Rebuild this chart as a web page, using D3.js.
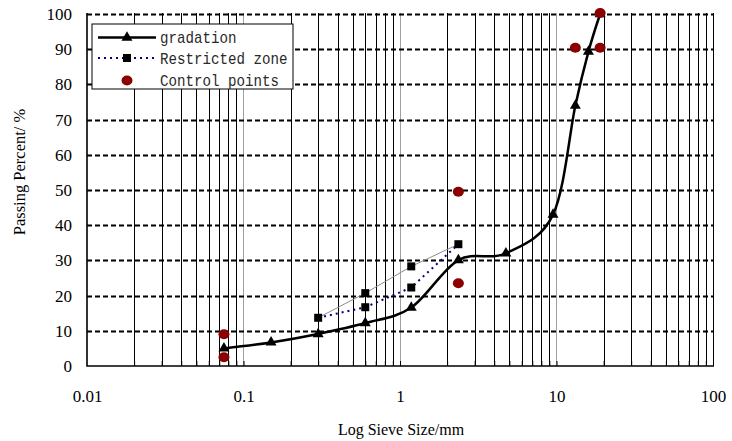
<!DOCTYPE html>
<html>
  <head>
    <meta charset="utf-8" />
    <script src="https://cdn.jsdelivr.net/npm/d3@7"></script>
    <style>
      body { margin: 0; background: #fff; }
      svg text { font-family: "Liberation Serif", "Times New Roman", serif; fill: #000; }
      .legend text { font-family: "Liberation Mono", "Courier New", monospace; font-size: 17px; fill: #2a2a2a; }
    </style>
  </head>
  <body>
    <div id="container"></div>
    <script>
      // sieve sizes (mm) and passing percents
      const sieves = [0.075, 0.15, 0.3, 0.6, 1.18, 2.36, 4.75, 9.5, 13.2, 16, 19];
      const gradation = [5.0, 6.7, 9.1, 12.2, 16.6, 30.1, 32.0, 43.0, 74.0, 89.3, 100];

      const zoneSieves = [0.3, 0.6, 1.18, 2.36];
      const zoneLower = [13.7, 16.7, 22.3, 34.6];
      const zoneUpper = [13.7, 20.7, 28.3, 34.6];

      const controlSieves = [0.075, 0.075, 2.36, 2.36, 13.2, 19, 19];
      const controlValues = [2.5, 9.0, 23.5, 49.5, 90.4, 90.4, 100.3];

      const xTickLabels = [0.01, 0.1, 1, 10, 100];
      const yTickLabels = [0, 10, 20, 30, 40, 50, 60, 70, 80, 90, 100];

      const legendNames = ["gradation", "Restricted zone", "Control points"];

      const w = 732;
      const h = 441;
      const margin = { left: 87, right: 19, top: 14, bottom: 75 };
      const serif = '"Liberation Serif", "Times New Roman", serif';

      const svg = d3
        .select("#container")
        .append("svg")
        .attr("width", w)
        .attr("height", h);

      const x = d3
        .scaleLog()
        .domain([0.01, 100])
        .range([margin.left, w - margin.right]);
      const y = d3
        .scaleLinear()
        .domain([0, 100])
        .range([h - margin.bottom, margin.top]);

      // vertical grid at every log step, decades in grey
      const gridVals = [];
      [0.01, 0.1, 1, 10].forEach((d) => {
        for (let k = 1; k <= 9; k++) {
          if (d * k > 0.01) gridVals.push(+(d * k).toPrecision(3));
        }
      });
      gridVals.push(100);
      const isDecade = (v) => Math.abs(Math.log10(v) - Math.round(Math.log10(v))) < 1e-6;

      svg
        .append("g")
        .selectAll("line")
        .data(gridVals)
        .enter()
        .append("line")
        .attr("x1", (d) => Math.round(x(d)) + 0.5)
        .attr("x2", (d) => Math.round(x(d)) + 0.5)
        .attr("y1", y(100) - 1)
        .attr("y2", y(0))
        .attr("stroke", (d) => (isDecade(d) && d < 100 ? "#a0a0a0" : "#000"))
        .attr("stroke-width", 1);

      // horizontal dashed grid (100 included, it is the top edge)
      svg
        .append("g")
        .selectAll("line")
        .data(yTickLabels.filter((v) => v > 0))
        .enter()
        .append("line")
        .attr("x1", x(0.01))
        .attr("x2", x(100))
        .attr("y1", (d) => Math.round(y(d)) + 0.5)
        .attr("y2", (d) => Math.round(y(d)) + 0.5)
        .attr("stroke", "#000")
        .attr("stroke-width", 2)
        .attr("stroke-dasharray", "5,3");

      // inside ticks on the bottom axis
      svg
        .append("g")
        .attr("transform", `translate(0,${y(0)})`)
        .call(d3.axisBottom(x).tickValues(gridVals).tickSize(-5).tickFormat(""))
        .call((g) => g.select(".domain").remove())
        .call((g) => g.selectAll("line").attr("stroke", "#000").attr("stroke-width", 1));

      // left and bottom axis lines
      svg
        .append("path")
        .attr("d", `M${x(0.01)},${y(100) - 1}V${y(0)}H${x(100) + 1}`)
        .attr("fill", "none")
        .attr("stroke", "#000")
        .attr("stroke-width", 1.6);

      // tick labels
      svg
        .append("g")
        .attr("transform", `translate(0,${y(0)})`)
        .call(
          d3.axisBottom(x).tickValues(xTickLabels).tickSize(0).tickPadding(24)
            .tickFormat((d) => String(d))
        )
        .call((g) => g.select(".domain").remove())
        .call((g) => g.attr("font-family", serif).attr("font-size", 17));

      svg
        .append("g")
        .attr("transform", `translate(${x(0.01)},0)`)
        .call(d3.axisLeft(y).tickValues(yTickLabels).tickSize(0).tickPadding(15))
        .call((g) => g.select(".domain").remove())
        .call((g) => g.attr("font-family", serif).attr("font-size", 17));

      svg
        .append("text")
        .attr("x", 401)
        .attr("y", 435)
        .attr("text-anchor", "middle")
        .attr("font-family", serif)
        .attr("font-size", 16)
        .text("Log Sieve Size/mm");

      svg
        .append("text")
        .attr("transform", "translate(25,172) rotate(-90)")
        .attr("text-anchor", "middle")
        .attr("font-family", serif)
        .attr("font-size", 16.5)
        .text("Passing Percent/ %");

      // restricted zone: upper bound thin grey, lower bound dotted navy
      const zoneLine = d3.line().x((d) => x(d[0])).y((d) => y(d[1]));
      svg
        .append("path")
        .attr("d", zoneLine(d3.zip(zoneSieves, zoneUpper)))
        .attr("fill", "none")
        .attr("stroke", "#8c8c8c")
        .attr("stroke-width", 1);
      svg
        .append("path")
        .attr("d", zoneLine(d3.zip(zoneSieves, zoneLower)))
        .attr("fill", "none")
        .attr("stroke", "#00007a")
        .attr("stroke-width", 2)
        .attr("stroke-dasharray", "2,4");

      const sq = d3.symbol().type(d3.symbolSquare).size(64);
      svg
        .append("g")
        .selectAll("path")
        .data(d3.zip(zoneSieves, zoneUpper).concat(d3.zip(zoneSieves.slice(1, 3), zoneLower.slice(1, 3))))
        .enter()
        .append("path")
        .attr("d", sq)
        .attr("transform", (d) => `translate(${x(d[0])},${y(d[1])})`)
        .attr("fill", "#000");

      // gradation curve (smoothed like the spreadsheet line)
      const gradLine = d3
        .line()
        .x((d) => x(d[0]))
        .y((d) => y(d[1]))
        .curve(d3.curveCardinal.tension(0));
      svg
        .append("path")
        .attr("d", gradLine(d3.zip(sieves, gradation)))
        .attr("fill", "none")
        .attr("stroke", "#000")
        .attr("stroke-width", 2.5);

      const tri = d3.symbol().type(d3.symbolTriangle).size(52);
      svg
        .append("g")
        .selectAll("path")
        .data(d3.zip(sieves, gradation))
        .enter()
        .append("path")
        .attr("d", tri)
        .attr("transform", (d) => `translate(${x(d[0])},${y(d[1])})`)
        .attr("fill", "#000");

      // control points
      svg
        .append("g")
        .selectAll("ellipse")
        .data(d3.zip(controlSieves, controlValues))
        .enter()
        .append("ellipse")
        .attr("cx", (d) => x(d[0]))
        .attr("cy", (d) => y(d[1]))
        .attr("rx", 5.5)
        .attr("ry", 5)
        .attr("fill", "#8b0000");

      // legend
      const legend = svg.append("g").attr("class", "legend");
      legend
        .append("rect")
        .attr("x", 92)
        .attr("y", 24)
        .attr("width", 201)
        .attr("height", 65)
        .attr("fill", "#fff")
        .attr("stroke", "#000")
        .attr("stroke-width", 1);

      const rowY = [37.5, 58, 80.5];
      legend
        .append("line")
        .attr("x1", 98).attr("x2", 156)
        .attr("y1", rowY[0]).attr("y2", rowY[0])
        .attr("stroke", "#000").attr("stroke-width", 2.5);
      legend.append("path").attr("d", tri).attr("transform", `translate(127,${rowY[0]})`);
      legend
        .append("line")
        .attr("x1", 98).attr("x2", 156)
        .attr("y1", rowY[1]).attr("y2", rowY[1])
        .attr("stroke", "#00007a").attr("stroke-width", 2)
        .attr("stroke-dasharray", "2,4");
      legend.append("path").attr("d", sq).attr("transform", `translate(127,${rowY[1]})`);
      legend
        .append("ellipse")
        .attr("cx", 127).attr("cy", rowY[2])
        .attr("rx", 5.5).attr("ry", 5)
        .attr("fill", "#8b0000");

      legend
        .selectAll("text")
        .data(legendNames)
        .enter()
        .append("text")
        .attr("x", 160)
        .attr("y", (d, i) => rowY[i] + 5.5)
        .attr("textLength", (d) => d.length * 8.5)
        .attr("lengthAdjust", "spacingAndGlyphs")
        .text((d) => d);
    </script>
  </body>
</html>
